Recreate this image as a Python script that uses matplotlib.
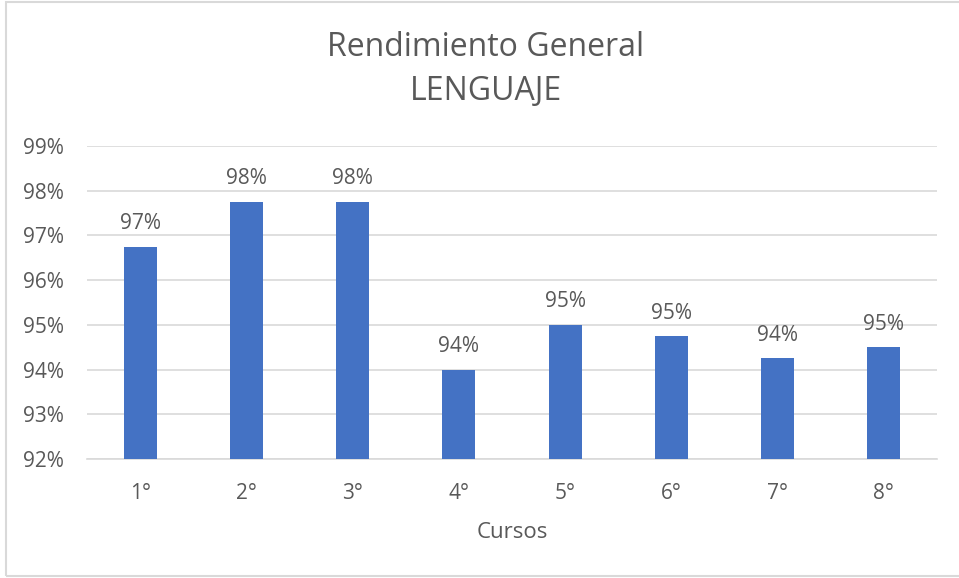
import matplotlib
matplotlib.use("Agg")
from matplotlib import pyplot as plt
from matplotlib.patches import Rectangle
from matplotlib.ticker import FuncFormatter

# Data
cursos = ['1°', '2°', '3°', '4°', '5°', '6°', '7°', '8°']
rendimiento = [96.75, 97.75, 97.75, 94.0, 95.0, 94.75, 94.25, 94.5]
y_ticks = [92, 93, 94, 95, 96, 97, 98, 99]

plt.rcParams['font.family'] = ['Open Sans', 'DejaVu Sans']
text_c = '#595959'
bar_c = '#4472C4'
grid_c = '#d9d9d9'

fig = plt.figure(figsize=(9.59, 5.78), dpi=100)
W, H = 959, 578
ax = fig.add_axes([87 / W, 1 - 459 / H, (937 - 87) / W, (459 - 146) / H])

x = list(range(len(cursos)))
ax.bar(x, rendimiento, width=0.31, color=bar_c, zorder=3)

ax.set_ylim(92, 99)
ax.set_xlim(-0.5, len(cursos) - 0.5)
ax.set_yticks(y_ticks)
ax.yaxis.set_major_formatter(FuncFormatter(lambda v, p: '%d%%' % v))
ax.set_xticks(x)
ax.set_xticklabels(cursos)
ax.tick_params(axis='both', length=0, labelsize=15, colors=text_c)
ax.tick_params(axis='x', pad=17)
ax.tick_params(axis='y', pad=16.5)
ax.grid(axis='y', color=grid_c, linewidth=1.2, zorder=0)
for s in ['left', 'right', 'top']:
    ax.spines[s].set_visible(False)
ax.spines['bottom'].set_color(grid_c)
ax.spines['bottom'].set_linewidth(1.2)

# value labels (rounded half up like Excel)
for xi, v in zip(x, rendimiento):
    ax.annotate('%d%%' % int(v + 0.5), (xi, v), xytext=(0, 9),
                textcoords='offset points', ha='center', va='bottom',
                fontsize=15, color=text_c)

ax.set_xlabel('Cursos', fontsize=16, color=text_c, labelpad=13)

fig.text(486 / W, 1 - 47 / H, 'Rendimiento General', ha='center', va='center',
         fontsize=23, color=text_c)
fig.text(486 / W, 1 - 92 / H, 'LENGUAJE', ha='center', va='center',
         fontsize=23, color=text_c)

# chart border
fig.patches.append(Rectangle((6 / W, 2 / H), 1.2, 1 - 4 / H,
                             transform=fig.transFigure, fill=False,
                             edgecolor=grid_c, linewidth=1.5))

fig.savefig('out.png', dpi=100)
